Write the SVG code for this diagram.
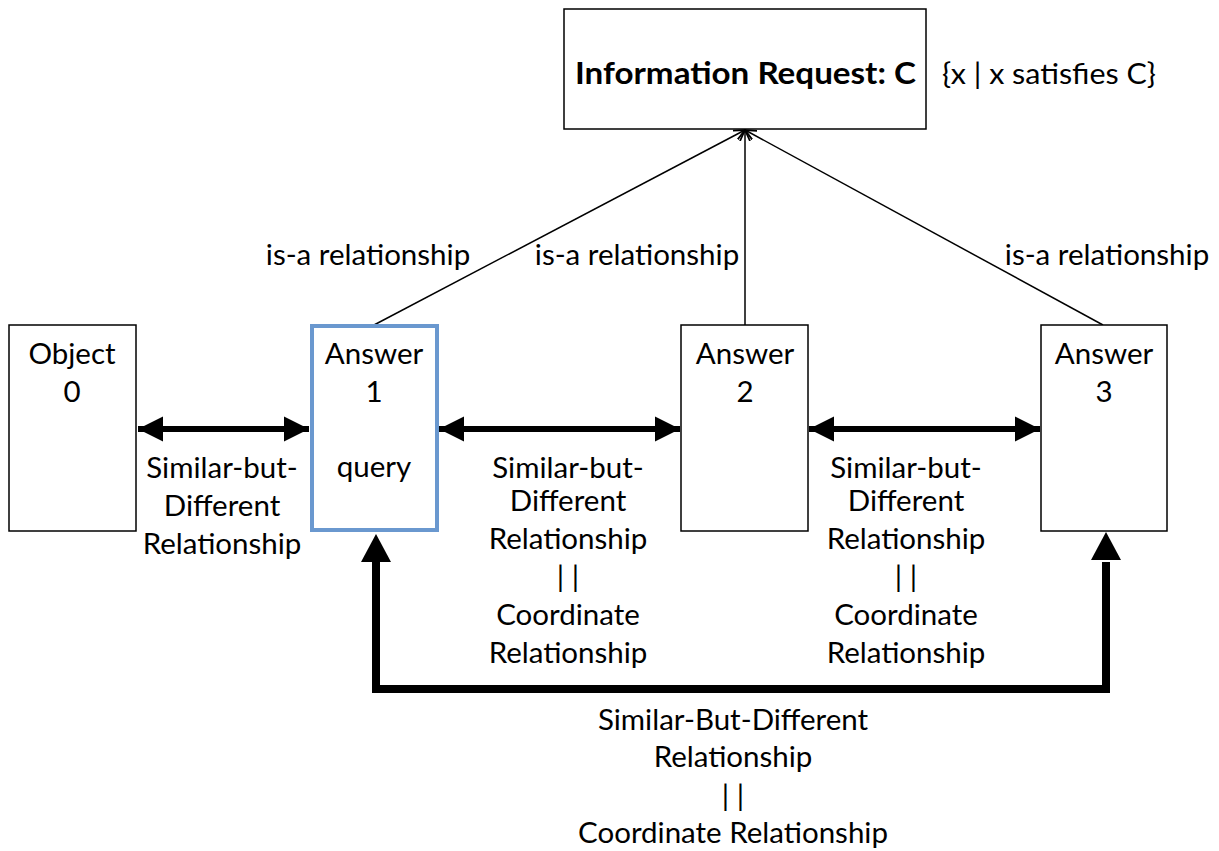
<svg xmlns="http://www.w3.org/2000/svg" width="1219" height="851" viewBox="0 0 1219 851">
  <defs>
    <style>
      .box { fill: #ffffff; stroke: #000000; stroke-width: 1.5; }
      .sel { fill: #ffffff; stroke: #6a98cf; stroke-width: 4; }
      .t { font-family: Lato, "Open Sans", "Liberation Sans", sans-serif; font-size: 29.5px; fill: #000000; text-anchor: middle; }
      .thin { stroke: #000000; stroke-width: 1.5; fill: none; marker-end: url(#open); }
      .thick { stroke: #000000; stroke-width: 6; fill: none; }
      .bold { stroke: #000000; stroke-width: 8; fill: none; }
    </style>
    <marker id="open" viewBox="0 0 12 12" refX="11" refY="6" markerWidth="12" markerHeight="12" markerUnits="userSpaceOnUse" orient="auto">
      <path d="M0,1 L11,6 L0,11" fill="none" stroke="#000" stroke-width="1.8"/>
    </marker>
    <marker id="solidEnd" viewBox="0 0 10 10" refX="10" refY="5" markerWidth="4.2" markerHeight="4.2" orient="auto">
      <path d="M0,0 L10,5 L0,10 Z" fill="#000"/>
    </marker>
    <marker id="solidStart" viewBox="0 0 10 10" refX="0" refY="5" markerWidth="4.2" markerHeight="4.2" orient="auto">
      <path d="M10,0 L0,5 L10,10 Z" fill="#000"/>
    </marker>
  </defs>

  <!-- connectors -->
  <g id="connectors">
    <line class="thin" x1="374" y1="325" x2="745" y2="130"/>
    <line class="thin" x1="745" y1="325" x2="745" y2="130"/>
    <line class="thin" x1="1103" y1="325" x2="745" y2="130"/>
    <line class="thick" x1="138" y1="429" x2="309" y2="429" marker-start="url(#solidStart)" marker-end="url(#solidEnd)"/>
    <line class="thick" x1="439" y1="429" x2="680" y2="429" marker-start="url(#solidStart)" marker-end="url(#solidEnd)"/>
    <line class="thick" x1="809" y1="429" x2="1040" y2="429" marker-start="url(#solidStart)" marker-end="url(#solidEnd)"/>
    <polyline class="bold" points="1106,562 1106,689 376,689 376,562"/>
    <path d="M376,534 L361,562 L391,562 Z" fill="#000"/>
    <path d="M1106,532 L1091,560 L1121,560 Z" fill="#000"/>
  </g>

  <g id="info-request">
    <rect class="box" x="564" y="9" width="362" height="120"/>
    <text class="t" x="745.5" y="84" font-weight="bold" textLength="341" lengthAdjust="spacingAndGlyphs">Information Request: C</text>
  </g>
  <text class="t" x="1049" y="84" textLength="214" lengthAdjust="spacingAndGlyphs">{x | x satisfies C}</text>

  <g id="object0">
    <rect class="box" x="9" y="325" width="127" height="206"/>
    <text class="t" x="72" y="364">Object</text>
    <text class="t" x="72" y="402">0</text>
  </g>

  <g id="answer1">
    <rect class="sel" x="312" y="326" width="125" height="204"/>
    <text class="t" x="374" y="364">Answer</text>
    <text class="t" x="374" y="402">1</text>
    <text class="t" x="374" y="477">query</text>
  </g>

  <g id="answer2">
    <rect class="box" x="681" y="325" width="127" height="206"/>
    <text class="t" x="745" y="364">Answer</text>
    <text class="t" x="745" y="402">2</text>
  </g>

  <g id="answer3">
    <rect class="box" x="1041" y="325" width="126" height="206"/>
    <text class="t" x="1104" y="364">Answer</text>
    <text class="t" x="1104" y="402">3</text>
  </g>

  <g id="labels">
    <text class="t" x="368" y="265">is-a relationship</text>
    <text class="t" x="637" y="265">is-a relationship</text>
    <text class="t" x="1107" y="265">is-a relationship</text>

    <text class="t" x="222" y="478">Similar-but-</text>
    <text class="t" x="222" y="516">Different</text>
    <text class="t" x="222" y="554">Relationship</text>

    <text class="t" x="568" y="478">Similar-but-</text>
    <text class="t" x="568" y="511">Different</text>
    <text class="t" x="568" y="549">Relationship</text>
    <text class="t" x="568" y="587">| |</text>
    <text class="t" x="568" y="625">Coordinate</text>
    <text class="t" x="568" y="663">Relationship</text>

    <text class="t" x="906" y="478">Similar-but-</text>
    <text class="t" x="906" y="511">Different</text>
    <text class="t" x="906" y="549">Relationship</text>
    <text class="t" x="906" y="587">| |</text>
    <text class="t" x="906" y="625">Coordinate</text>
    <text class="t" x="906" y="663">Relationship</text>

    <text class="t" x="733" y="730">Similar-But-Different</text>
    <text class="t" x="733" y="767">Relationship</text>
    <text class="t" x="733" y="806">| |</text>
    <text class="t" x="733" y="843">Coordinate Relationship</text>
  </g>
</svg>
